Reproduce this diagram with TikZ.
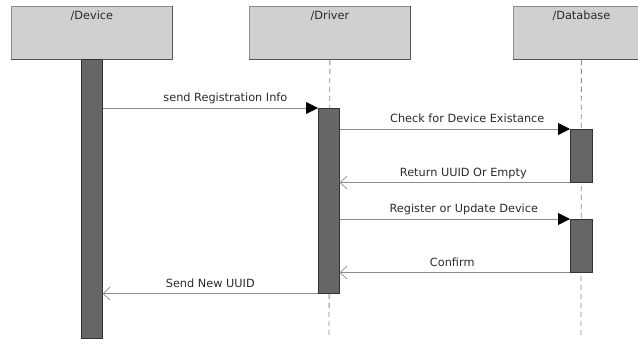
\documentclass[tikz,border=0pt]{standalone}
\usepackage{fontspec}
\setmainfont{DejaVu Sans}
\usetikzlibrary{arrows.meta}
\definecolor{boxfill}{HTML}{D0D0D0}
\definecolor{boxline}{HTML}{8A8A8A}
\definecolor{boxshade}{HTML}{555555}
\definecolor{barfill}{HTML}{666666}
\definecolor{barline}{HTML}{333333}
\definecolor{msgline}{HTML}{8C8C8C}
\definecolor{txt}{HTML}{2A2A2A}
\tikzset{
  x=1pt, y=-1pt,
  every node/.style={font=\fontsize{11.3}{13}\selectfont, text=txt},
  participant/.style={draw=boxline, fill=boxfill, line width=0.8pt, minimum width=161pt, minimum height=53pt, inner sep=0pt, anchor=north west},
  bar/.style={draw=barline, fill=barfill, line width=0.6pt, minimum width=21pt, inner sep=0pt, anchor=north west},
  lifeline/.style={draw=msgline, line width=0.8pt, dash pattern=on 5pt off 4pt},
  call/.style={draw=msgline, line width=0.8pt, -{Triangle[length=12pt,width=12pt,fill=black,color=black]}},
  reply/.style={draw=msgline, line width=0.8pt, -{Straight Barb[length=7pt,width=13pt,line width=0.7pt]}},
  lbl/.style={anchor=base, yshift=6.5pt, inner sep=0pt}
}
\begin{document}
\begin{tikzpicture}
\useasboundingbox (0,0) rectangle (638,344);
\clip (0,0) rectangle (638,344);
% participants
\node[participant] (dev) at (11,6) {};
\node[participant] (drv) at (249,6) {};
\node[participant, minimum width=136pt] (db) at (513,6) {};
\node[anchor=north, inner sep=0pt] (devt) at ([yshift=-5pt]dev.north) {/Device};
\node[anchor=north, inner sep=0pt] (drvt) at ([yshift=-5pt]drv.north) {/Driver};
\node[anchor=north, inner sep=0pt] (dbt) at ([yshift=-5pt]db.north) {/Database};
\draw[boxshade, line width=1.2pt] (dev.south west) -- (dev.south east) -- (dev.north east);
\draw[boxshade, line width=1.2pt] (drv.south west) -- (drv.south east) -- (drv.north east);
\draw[boxshade, line width=1.2pt] (db.south west) -- (db.south east);
% lifelines
\coordinate (drvend) at (329,338);
\coordinate (dbend) at (581,338);
\draw[lifeline] (drv.south) -- (drvend);
\draw[lifeline] (db.south) -- (dbend);
% activation bars
\node[bar, minimum height=279pt] (devbar) at (81,59) {};
\node[bar, minimum height=185pt] (drvbar) at (318,108) {};
\node[bar, minimum height=53pt, minimum width=22pt] (dbbar1) at (570,129) {};
\node[bar, minimum height=53pt, minimum width=22pt] (dbbar2) at (570,219) {};
% messages
\draw[call] (devbar.east |- drvbar.north west) -- (drvbar.north west)
  node[lbl, pos=0.57] {send Registration Info};
\draw[call] (drvbar.east |- dbbar1.north west) -- (dbbar1.north west)
  node[lbl, pos=0.554] {Check for Device Existance};
\draw[reply] (dbbar1.south west) -- (drvbar.east |- dbbar1.south west)
  node[lbl, pos=0.463] {Return UUID Or Empty};
\draw[call] (drvbar.east |- dbbar2.north west) -- (dbbar2.north west)
  node[lbl, pos=0.539] {Register or Update Device};
\draw[reply] (dbbar2.south west) -- (drvbar.east |- dbbar2.south west)
  node[lbl, pos=0.511] {Confirm};
\draw[reply] (drvbar.south west) -- (devbar.east |- drvbar.south west)
  node[lbl, pos=0.5] {Send New UUID};
\end{tikzpicture}
\end{document}
